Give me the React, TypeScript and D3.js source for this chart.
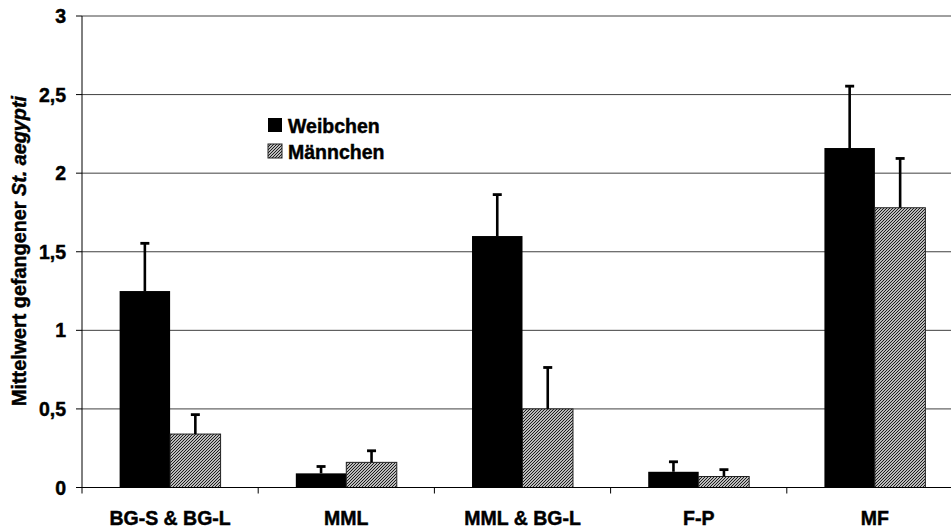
import * as d3 from "d3";

const categories = ["BG-S & BG-L", "MML", "MML & BG-L", "F-P", "MF"];
const seriesNames = ["Weibchen", "Männchen"];
const females = [1.25, 0.09, 1.6, 0.1, 2.16];
const femalesErr = [0.31, 0.05, 0.27, 0.07, 0.4];
const males = [0.34, 0.16, 0.5, 0.07, 1.78];
const malesErr = [0.13, 0.08, 0.27, 0.05, 0.32];
const yTicks = [0, 0.5, 1, 1.5, 2, 2.5, 3];

const W = 951;
const H = 528;
const left = 82;
const right = 963;
const top = 16;
const bottom = 487.5;
// Liberation bold renders lighter than the original, a thin stroke thickens it
const textStyle = { fontFamily: "Arial, 'Liberation Sans', sans-serif", fontWeight: 700, stroke: "#000", strokeWidth: 0.45 } as const;

export default function App() {
  const x = d3.scaleBand<string>().domain(categories).range([left, right]).paddingInner(0.427).paddingOuter(0.2135);
  const xs = d3.scaleBand<number>().domain([0, 1]).range([0, x.bandwidth()]);
  const y = d3.scaleLinear().domain([0, 3]).range([bottom, top]);
  const step = x.step();
  const fmt = (v: number) => String(v).replace(".", ",");

  const series = [
    { name: seriesNames[0], values: females, errs: femalesErr, fill: "#000", stroke: "#000" },
    { name: seriesNames[1], values: males, errs: malesErr, fill: "url(#hatch)", stroke: "#222" },
  ];

  return (
    <svg width={W} height={H} style={{ position: "absolute", left: 0, top: 0, background: "#fff" }}>
      <defs>
        <pattern id="hatch" patternUnits="userSpaceOnUse" width="3" height="3">
          <rect width="3" height="3" fill="#fff" />
          <path d="M-1,1 L1,-1 M0,3 L3,0 M2,4 L4,2" stroke="#111" strokeWidth="1.1" />
        </pattern>
      </defs>

      {/* gridlines */}
      {yTicks.filter((t) => t > 0).map((t) => (
        <line key={t} x1={left} x2={W} y1={y(t)} y2={y(t)} stroke="#404040" strokeWidth={1} />
      ))}

      {/* bars */}
      {series.map((s, si) =>
        categories.map((c, i) => (
          <rect
            key={s.name + c}
            x={x(c)! + xs(si)!}
            y={y(s.values[i])}
            width={xs.bandwidth()}
            height={bottom - y(s.values[i])}
            fill={s.fill}
            stroke={s.stroke}
            strokeWidth={si === 1 ? 1 : 0}
          />
        ))
      )}

      {/* error bars */}
      {series.map((s, si) =>
        categories.map((c, i) => {
          const cx = x(c)! + xs(si)! + xs.bandwidth() / 2;
          const y1 = y(s.values[i]);
          const y2 = y(s.values[i] + s.errs[i]);
          return (
            <g key={"e" + s.name + c}>
              <line x1={cx} x2={cx} y1={y1} y2={y2 + 1} stroke="#000" strokeWidth={2.6} />
              <line x1={cx - 4.5} x2={cx + 4.5} y1={y2 + 1} y2={y2 + 1} stroke="#000" strokeWidth={2.8} />
            </g>
          );
        })
      )}

      {/* y axis */}
      <line x1={left} x2={left} y1={top} y2={bottom + 6} stroke="#000" strokeWidth={1} />
      {yTicks.map((t) => (
        <g key={"yt" + t}>
          <line x1={left - 6} x2={left} y1={y(t)} y2={y(t)} stroke="#000" strokeWidth={1} />
          <text x={66} y={y(t)} dy="0.36em" textAnchor="end" fontSize={19.5} style={textStyle}>
            {fmt(t)}
          </text>
        </g>
      ))}

      {/* x axis */}
      <line x1={left} x2={W} y1={bottom} y2={bottom} stroke="#000" strokeWidth={1} />
      {categories.map((c, i) => (
        <g key={"xt" + c}>
          {i > 0 && <line x1={left + i * step} x2={left + i * step} y1={bottom} y2={bottom + 6} stroke="#000" strokeWidth={1} />}
          <text x={x(c)! + x.bandwidth() / 2} y={525} textAnchor="middle" fontSize={19.5} style={textStyle}>
            {c}
          </text>
        </g>
      ))}

      {/* y label */}
      <text transform={`translate(26,251) rotate(-90)`} textAnchor="middle" fontSize={19.8} style={textStyle}>
        Mittelwert gefangener <tspan fontStyle="italic">St. aegypti</tspan>
      </text>

      {/* legend */}
      {series.map((s, si) => (
        <g key={"lg" + s.name} transform={`translate(268,${118 + si * 26})`}>
          <rect width={14} height={14} fill={s.fill} stroke={s.stroke} strokeWidth={si === 1 ? 1 : 0} />
          <text x={20} y={14.5} fontSize={19.5} style={textStyle}>
            {s.name}
          </text>
        </g>
      ))}
    </svg>
  );
}
